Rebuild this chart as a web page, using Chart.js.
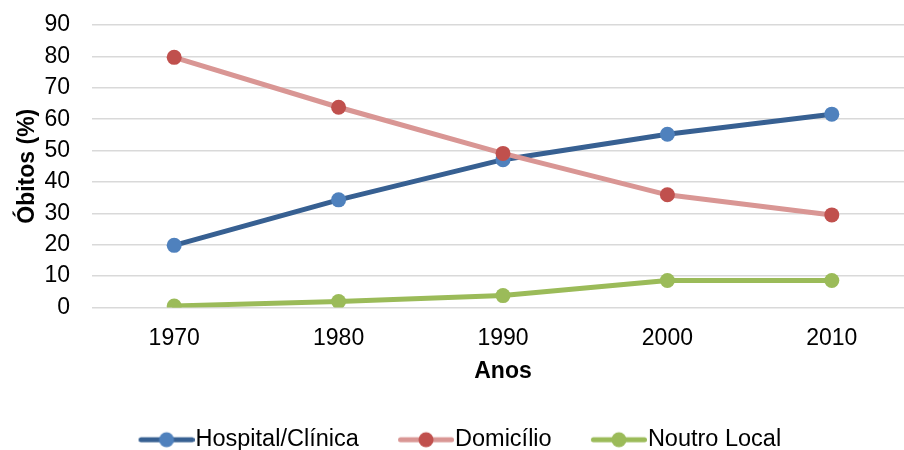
<!DOCTYPE html>
<html>
<head>
<meta charset="utf-8">
<script src="https://cdn.jsdelivr.net/npm/chart.js@4/dist/chart.umd.min.js"></script>
<style>
  html, body { margin: 0; padding: 0; overflow: hidden; background: #ffffff; width: 904px; height: 450px; }
  #chart { position: absolute; left: -10px; top: 0; }
</style>
</head>
<body>
<canvas id="chart" width="924" height="450"></canvas>
<script>
// Decades on the horizontal axis
const anos = ['1970', '1980', '1990', '2000', '2010'];

// Share of deaths (%) by place of death
const hospitalClinica = [19.8, 34.3, 47.1, 55.2, 61.6];
const domicilio       = [79.7, 63.8, 49.1, 35.9, 29.5];
const noutroLocal     = [0.5, 1.9, 3.8, 8.6, 8.6];

const seriesNames = ['Hospital/Clínica', 'Domicílio', 'Noutro Local'];

// Colours: line colour and marker colour for each series
const lineColors   = ['#376092', '#D99694', '#9BBB59'];
const markerColors = ['#4F81BD', '#C0504D', '#9BBB59'];

const FONT = "'Liberation Sans', Arial, sans-serif";

// Legend swatch: a short line with a dot in the middle.
// The blank left part of the image leaves room between legend entries.
function swatch(lineColor, dotColor) {
  const c = document.createElement('canvas');
  c.width = 96; c.height = 18;
  const g = c.getContext('2d');
  g.strokeStyle = lineColor;
  g.lineWidth = 5;
  g.lineCap = 'round';
  g.beginPath(); g.moveTo(42.5, 9); g.lineTo(93.5, 9); g.stroke();
  g.fillStyle = dotColor;
  g.beginPath(); g.arc(68, 9, 7.5, 0, Math.PI * 2); g.fill();
  return c;
}
const swatches = seriesNames.map((_, i) => swatch(lineColors[i], markerColors[i]));

function makeDataset(i, values, order) {
  return {
    label: seriesNames[i],
    data: values,
    borderColor: lineColors[i],
    backgroundColor: markerColors[i],
    borderWidth: 5,
    borderCapStyle: 'round',
    borderJoinStyle: 'round',
    pointRadius: 7.5,
    pointHoverRadius: 7.5,
    pointBorderWidth: 0,
    pointBackgroundColor: markerColors[i],
    tension: 0,
    order: order
  };
}

new Chart(document.getElementById('chart'), {
  type: 'line',
  data: {
    labels: anos,
    datasets: [
      makeDataset(0, hospitalClinica, 1),
      makeDataset(1, domicilio, 0),
      makeDataset(2, noutroLocal, 2)
    ]
  },
  options: {
    responsive: false,
    animation: false,
    events: [],
    layout: { autoPadding: false, padding: { top: 25, right: 0, left: -13.6, bottom: -11.5 } },
    plugins: {
      tooltip: { enabled: false },
      title: { display: false },
      legend: {
        position: 'bottom',
        align: 'center',
        labels: {
          usePointStyle: true,
          pointStyleWidth: 74.5,
          padding: 10,
          color: '#000000',
          font: { family: FONT, size: 23.5 },
          generateLabels: (chart) => chart.data.datasets.map((ds, i) => ({
            text: ds.label,
            pointStyle: swatches[i],
            fillStyle: markerColors[i],
            strokeStyle: lineColors[i],
            lineWidth: 0,
            hidden: false,
            datasetIndex: i,
            fontColor: '#000000'
          }))
        }
      }
    },
    scales: {
      x: {
        type: 'category',
        offset: true,
        grid: { display: false, drawTicks: true, tickLength: 17, tickColor: 'rgba(0,0,0,0)' },
        border: { display: false },
        ticks: { color: '#000000', font: { family: FONT, size: 23 }, padding: 0, maxRotation: 0, autoSkip: false },
        title: {
          display: true,
          text: 'Anos',
          color: '#000000',
          font: { family: FONT, size: 23, weight: 'bold' },
          padding: { top: 0, bottom: 32.5 }
        },
        afterFit: (scale) => {
          scale.height = 110.5;
          scale.paddingLeft = 0;
          scale.paddingRight = 0;
        }
      },
      y: {
        min: 0,
        max: 90,
        ticks: { stepSize: 10, autoSkip: false, color: '#000000', font: { family: FONT, size: 23 }, padding: 0 },
        grid: { color: '#d9d9d9', lineWidth: 1.5, drawTicks: true, tickLength: 22, tickColor: 'rgba(0,0,0,0)' },
        border: { display: false },
        title: {
          display: true,
          text: 'Óbitos (%)',
          color: '#000000',
          font: { family: FONT, size: 23, weight: 'bold' },
          padding: { top: 37.6, bottom: 0 }
        },
        afterFit: (scale) => { scale.width = 115.6; }
      }
    }
  }
});
</script>
</body>
</html>
